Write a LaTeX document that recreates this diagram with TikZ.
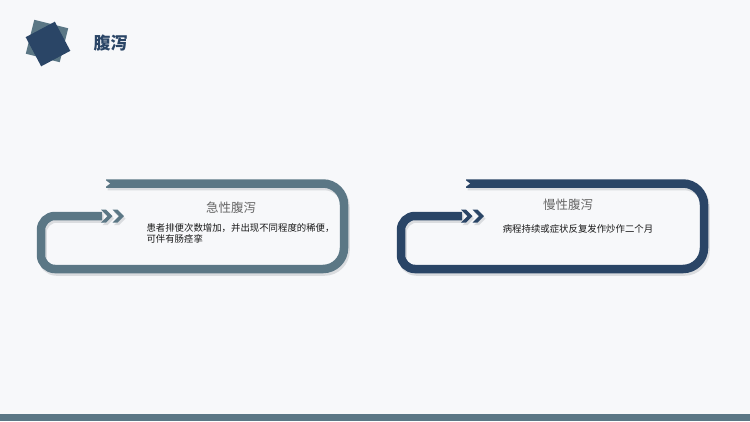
\documentclass[tikz,border=0pt]{standalone}
\usepackage{fontspec}
\setmainfont{Noto Sans CJK SC}
\usepackage{tikz}
\usetikzlibrary{calc}

\definecolor{slate}{HTML}{5B7785}
\definecolor{navy}{HTML}{2A4566}
\definecolor{pageBg}{HTML}{F7F8FA}
\definecolor{shadowGray}{HTML}{DADCDF}

\begin{document}
\begin{tikzpicture}[x=1pt, y=-1pt]

	% page
	\fill [pageBg] (0,0) rectangle (750,421);
	\useasboundingbox (0,0) rectangle (750,421);
	\fill [slate] (0,414) rectangle (750,421);

	% logo squares
	\node [fill = slate, inner sep = 0, minimum size = 35, rotate = -14] (logoBack) at (47,41) {};
	\node [fill = navy, inner sep = 0, minimum size = 33, rotate = 28] (logoFront) at (48,44) {};
	\node [font = \fontsize{17}{20}\selectfont\bfseries, text = navy, anchor = west] (pageTitle) at (90,43) {腹泻};

	\def \bandWidth {8.5};
	\def \shadowShift {(1.5,2.5)};

	% left panel (acute)
	\draw [shadowGray, line width = \bandWidth, rounded corners = 21, shift = {\shadowShift}] (106,183.5) -- (344,183.5) -- (344,269) -- (200,269) [rounded corners = 14] -- (41,269) -- (41,216) -- (102,216);
	\draw [slate, line width = \bandWidth, rounded corners = 21] (106,183.5) -- (344,183.5) -- (344,269) -- (200,269) [rounded corners = 14] -- (41,269) -- (41,216) -- (102,216);
	\fill [pageBg] (104,179) -- (110,183.5) -- (104,188) -- cycle;
	\fill [shadowGray, shift = {\shadowShift}] (101,209.5) -- (106,209.5) -- (112.5,216) -- (106,222.5) -- (101,222.5) -- (107.5,216) -- cycle;
	\fill [shadowGray, shift = {\shadowShift}] (112.5,209.5) -- (117.5,209.5) -- (124,216) -- (117.5,222.5) -- (112.5,222.5) -- (119,216) -- cycle;
	\fill [slate] (101,209.5) -- (106,209.5) -- (112.5,216) -- (106,222.5) -- (101,222.5) -- (107.5,216) -- cycle;
	\fill [slate] (112.5,209.5) -- (117.5,209.5) -- (124,216) -- (117.5,222.5) -- (112.5,222.5) -- (119,216) -- cycle;
	\node [font = \fontsize{12.5}{14}\selectfont, text = black!60] (acuteTitle) at (231,208) {急性腹泻};
	\node [font = \fontsize{9.4}{11}\selectfont, text = black!90, anchor = west, align = left] (acuteText) at (143,233.5) {患者排便次数增加，并出现不同程度的稀便，\\可伴有肠痉挛};

	% right panel (chronic)
	\begin{scope}[xshift = 360]
		\draw [shadowGray, line width = \bandWidth, rounded corners = 21, shift = {\shadowShift}] (106,183.5) -- (344,183.5) -- (344,269) -- (200,269) [rounded corners = 14] -- (41,269) -- (41,216) -- (102,216);
		\draw [navy, line width = \bandWidth, rounded corners = 21] (106,183.5) -- (344,183.5) -- (344,269) -- (200,269) [rounded corners = 14] -- (41,269) -- (41,216) -- (102,216);
		\fill [pageBg] (104,179) -- (110,183.5) -- (104,188) -- cycle;
		\fill [shadowGray, shift = {\shadowShift}] (101,209.5) -- (106,209.5) -- (112.5,216) -- (106,222.5) -- (101,222.5) -- (107.5,216) -- cycle;
		\fill [shadowGray, shift = {\shadowShift}] (112.5,209.5) -- (117.5,209.5) -- (124,216) -- (117.5,222.5) -- (112.5,222.5) -- (119,216) -- cycle;
		\fill [navy] (101,209.5) -- (106,209.5) -- (112.5,216) -- (106,222.5) -- (101,222.5) -- (107.5,216) -- cycle;
		\fill [navy] (112.5,209.5) -- (117.5,209.5) -- (124,216) -- (117.5,222.5) -- (112.5,222.5) -- (119,216) -- cycle;
		\node [font = \fontsize{12.5}{14}\selectfont, text = black!60] (chronicTitle) at (208,205) {慢性腹泻};
		\node [font = \fontsize{9.4}{11}\selectfont, text = black!90] (chronicText) at (218,229) {病程持续或症状反复发作炒作二个月};
	\end{scope}

\end{tikzpicture}
\end{document}
